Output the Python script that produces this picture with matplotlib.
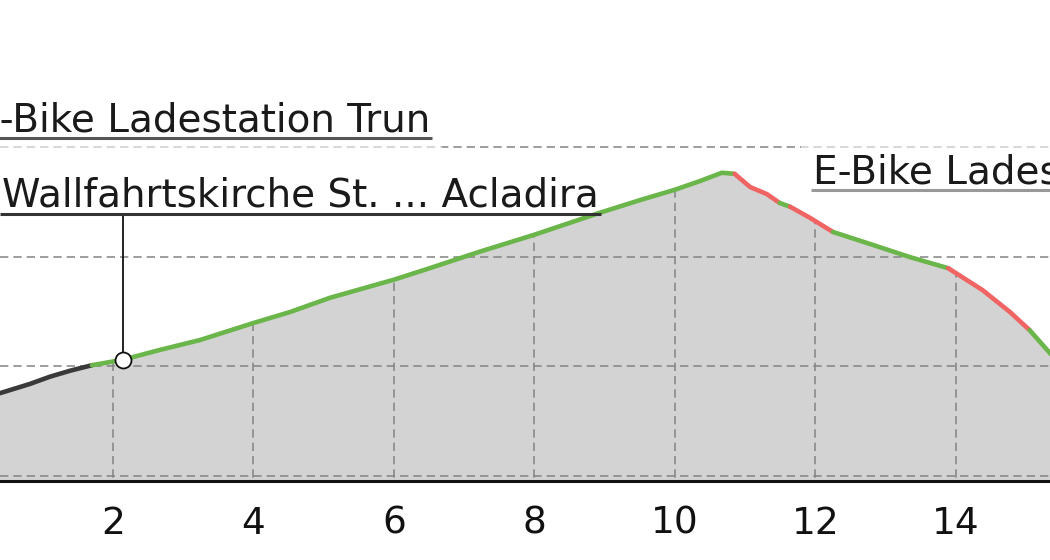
import matplotlib
matplotlib.use("Agg")
import matplotlib.pyplot as plt
import numpy as np

# ---- data: distance (km), elevation (m) ----
dist_km = [0.39, 0.82, 1.10, 1.39, 1.70, 2.14, 2.67, 3.24, 4.00, 4.52, 5.09, 6.00,
           6.51, 7.22, 8.00, 8.93, 9.50, 10.00, 10.36, 10.67, 10.85, 11.07, 11.31,
           11.49, 11.64, 11.92, 12.25, 12.78, 13.35, 13.89, 14.38, 14.77, 15.05,
           15.34, 15.48]
elev_m = [951, 968, 981, 992, 1002, 1012, 1030, 1048, 1079, 1099, 1125, 1158,
          1179, 1209, 1240, 1280, 1303, 1322, 1338, 1353, 1351, 1327, 1314,
          1298, 1291, 1271, 1245, 1223, 1199, 1179, 1139, 1099, 1066,
          1024, 1002]
# surface class of each segment (between consecutive points)
seg_class = (["unknown"] * 4 + ["ok"] * 16 + ["steep"] * 3 + ["ok"] + ["steep"] * 2
             + ["ok"] * 3 + ["steep"] * 3 + ["ok"] * 2)
class_colors = {"unknown": "#3a3a3a", "ok": "#6ab64a", "steep": "#f06464"}

xticks = [2, 4, 6, 8, 10, 12, 14]
yticks = [800, 1000, 1200, 1400]

labels = ["E-Bike Ladestation Trun", "Wallfahrtskirche St. ... Acladira", "E-Bike Ladestation"]
label_x = [0.03, 0.42, 11.96]
label_y = [1429, 1291, 1334]
label_line_color = ["#555555", "#333333", "#999999"]
label_box = [True, False, True]
poi_km = 2.14
poi_elev = 1012

# ---- figure ----
plt.rcParams['lines.scale_dashes'] = False
fig = plt.figure(figsize=(10.5, 5.6), dpi=100)
ax = fig.add_axes([0, 0.1411, 1, 0.8589])
ax.set_xlim(0.391, 15.34)
ax.set_ylim(790.9, 1668)

x = np.array(dist_km)
y = np.array(elev_m)
fill = ax.fill_between(x, y, 700, color="#d3d3d3", zorder=1, linewidth=0)

# draw runs of same class
start = 0
for i in range(1, len(seg_class) + 1):
    if i == len(seg_class) or seg_class[i] != seg_class[start]:
        ax.plot(x[start:i + 1], y[start:i + 1], color=class_colors[seg_class[start]],
                lw=3.3, solid_capstyle="round", zorder=3)
        start = i

dash = (0, (6, 3.6))
ax.set_xticks(xticks)
ax.set_yticks(yticks)
ax.set_yticklabels([])
ax.tick_params(axis="x", length=0, pad=18, labelsize=27, colors="#111111")
ax.tick_params(axis="y", length=0)
ax.set_axisbelow(False)
ax.yaxis.grid(True, color="#838383", linestyle=dash, linewidth=1.1)
ax.xaxis.grid(False)
# vertical grid only inside the filled profile
vl = ax.vlines(xticks, 700, 1700, colors="#838383", linestyles=dash, linewidth=1.1, zorder=2)
vl.set_clip_path(fill.get_paths()[0], ax.transData)

for s in ["top", "right", "left"]:
    ax.spines[s].set_visible(False)
ax.spines["bottom"].set_linewidth(2.2)
ax.spines["bottom"].set_color("#111111")

# POI marker
ax.plot([poi_km], [poi_elev], marker="o", ms=11.5, mfc="white", mec="#111111", mew=1.3, zorder=5)

texts = []
for t, lx, ly, bx in zip(labels, label_x, label_y, label_box):
    kw = {}
    if bx:
        kw["bbox"] = dict(boxstyle="square,pad=0.3", fc="white", ec="none", alpha=0.6)
    tx = ax.text(lx, ly, t, fontsize=28, color="#1a1a1a", ha="left", va="baseline",
                 zorder=6, **kw)
    texts.append(tx)

fig.canvas.draw()
renderer = fig.canvas.get_renderer()
inv = ax.transData.inverted()
ul_y = []
for tx, col in zip(texts, label_line_color):
    bb = tx.get_window_extent(renderer)
    (x0, _), (x1, _) = inv.transform([(bb.x0 - 2, 0), (bb.x1 + 2, 0)])
    _, by = ax.transData.transform((0, tx.get_position()[1]))
    _, uy = inv.transform((0, by - 7))
    ul_y.append(uy)
    ax.plot([x0, x1], [uy, uy], color=col, lw=2.2, solid_capstyle="butt", zorder=7)

# leader line from POI to label 2 underline
ax.plot([poi_km, poi_km], [poi_elev + 11, ul_y[1]], color="#111111", lw=1.3, zorder=4)

fig.savefig("out.png", dpi=100, facecolor="white")
